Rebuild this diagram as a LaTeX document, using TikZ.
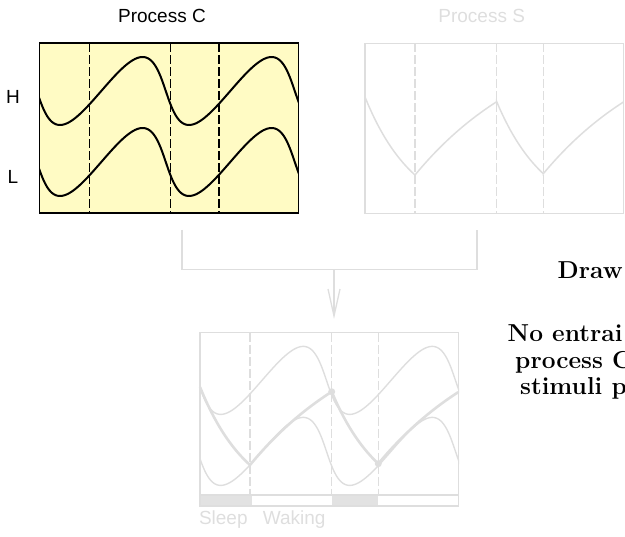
\documentclass[tikz,border=0pt]{standalone}
\usepackage{fontspec}
\newfontfamily\labelfont{Liberation Sans}
\usetikzlibrary{arrows.meta,calc,positioning}

\definecolor{cyellow}{RGB}{255,251,196}
\definecolor{faint}{RGB}{222,222,222}
\definecolor{sleepgray}{RGB}{226,226,226}

\tikzset{
  panel/.style={draw, line width=1.6pt, inner sep=0pt, minimum width=259pt},
  fpanel/.style={draw=faint, line width=1.3pt, inner sep=0pt, minimum width=258.3pt},
  guide/.style={line width=1.1pt, dash pattern=on 9pt off 3pt},
  wave/.style={line width=2pt, line join=round},
  link/.style={draw=faint, line width=1.3pt},
  lab/.style={font=\labelfont\fontsize{19}{22}\selectfont},
  note/.style={anchor=base west, inner sep=0pt, font=\bfseries\fontsize{24.5}{27}\selectfont},
  dot/.style={circle, fill=faint, inner sep=0pt, minimum size=7pt}
}

\begin{document}
\begin{tikzpicture}[x=1pt, y=-1pt]
\useasboundingbox (0,0) rectangle (625,537);

% processo C
\node[panel, fill=cyellow, minimum height=170pt] (procC) at (168.8,128.3) {};
\begin{scope}
  \clip (39.3,43.3) rectangle (298.3,213.3);
  \foreach \mid in {91,162}{
    \draw[wave] plot[domain=-1.9:11.9, samples=180, variable=\t]
      ({60+20.53*(\t+0.44*(1-cos(\t r)))},{\mid+34*cos(\t r)});
  }
\end{scope}
\foreach \x in {89.3,170.7,219}{
  \draw[guide] (\x,43.3) -- (\x,213.3);
}
\node[lab] (titC) at (162,16) {Process C};
\node[lab] (labH) at (13,97) {H};
\node[lab] (labL) at (13,177) {L};

% processo S
\node[fpanel, minimum height=170pt] (procS) at (494.15,128.3) {};
\foreach \x in {415,496.7,543.3}{
  \draw[guide, faint] (\x,43.3) -- (\x,213.3);
}
\draw[faint, line width=1.5pt]
  plot[domain=365:415, samples=40] (\x,{220-123*exp(-(\x-365)/49.7)})
  -- plot[domain=415:496.7, samples=40] (\x,{20+155*exp(-(\x-415)/127.6)})
  -- plot[domain=496.7:543.3, samples=40] (\x,{220-118.3*exp(-(\x-496.7)/49.7)})
  -- plot[domain=543.3:623.3, samples=40] (\x,{20+153.7*exp(-(\x-543.3)/127.6)});
\node[lab, text=faint] (titS) at (481.7,16) {Process S};

% collegamento
\coordinate (c-out) at (182,230);
\coordinate (s-out) at (477,230);
\coordinate (merge) at (334,269.5);
\coordinate (b-in) at (334,319);
\draw[link] (c-out) |- (s-out |- merge) -- (s-out);
\draw[link, -{Straight Barb[length=27pt, width=12pt]}] (merge) -- (b-in);

% modello combinato
\node[fpanel, minimum height=162.3pt] (procB) at (329.15,413.85) {};
\begin{scope}[shift={(160.7,289.4)}]
  \clip (39.3,43.3) rectangle (298.3,205.6);
  \foreach \mid in {91,162}{
    \draw[faint, line width=1.4pt] plot[domain=-1.9:11.9, samples=180, variable=\t]
      ({60+20.53*(\t+0.44*(1-cos(\t r)))},{\mid+34*cos(\t r)});
  }
\end{scope}
\foreach \x in {250,331.7,378.3}{
  \draw[guide, faint] (\x,332.7) -- (\x,495);
}
\begin{scope}[shift={(-165,290)}]
  \draw[faint, line width=2.6pt, line join=round]
    plot[domain=365:415, samples=40] (\x,{220-123*exp(-(\x-365)/49.7)})
    -- plot[domain=415:496.7, samples=40] (\x,{20+155*exp(-(\x-415)/127.6)})
    -- plot[domain=496.7:543.3, samples=40] (\x,{220-118.3*exp(-(\x-496.7)/49.7)})
    -- plot[domain=543.3:623.3, samples=40] (\x,{20+153.7*exp(-(\x-543.3)/127.6)});
\end{scope}
\node[dot] (peak) at (331.7,391.7) {};
\node[dot] (trough) at (378.3,463.7) {};

% barra sonno/veglia
\fill[sleepgray] (200,495) rectangle (251.7,506);
\fill[sleepgray] (331.7,495) rectangle (378.3,506);
\draw[faint, line width=1.2pt] (200,495) rectangle (458.3,506);
\node[lab, text=faint] (sleep) at (223.3,520) {Sleep};
\node[lab, text=faint] (waking) at (294.2,520) {Waking};

% testo a destra
\node[note] (t1) at (557.5,279) {Draw};
\node[note] (t2) at (507.5,342) {No entrai};
\node[note] (t3) at (515,368.5) {process C};
\node[note] (t4) at (520,395) {stimuli p};
\end{tikzpicture}
\end{document}
